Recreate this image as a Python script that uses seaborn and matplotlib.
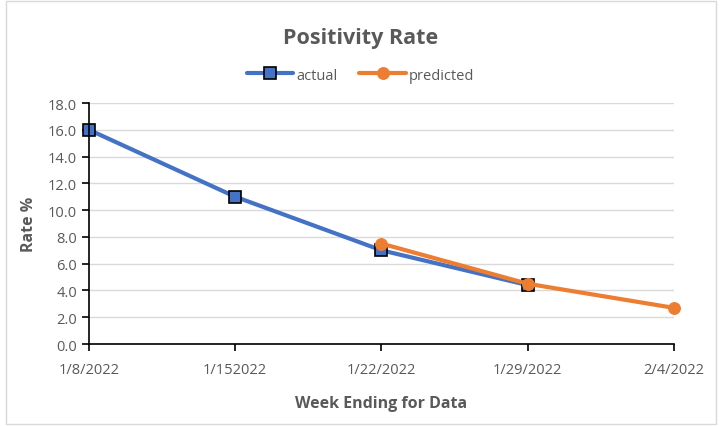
import matplotlib
matplotlib.use("Agg")
import matplotlib.pyplot as plt
import seaborn as sns
import pandas as pd

# data
weeks = ["1/8/2022", "1/152022", "1/22/2022", "1/29/2022", "2/4/2022"]
actual = [16.0, 11.0, 7.0, 4.4]
predicted = [7.5, 4.5, 2.7]

df_actual = pd.DataFrame({"pos": range(len(actual)), "rate": actual})
df_pred = pd.DataFrame({"pos": range(2, 2 + len(predicted)), "rate": predicted})

sns.set_style("white")
plt.rcParams["font.family"] = ["Open Sans", "DejaVu Sans"]
grey = "#595959"

fig = plt.figure(figsize=(7.21, 4.27), dpi=100)
ax = fig.add_axes([0.1234, 0.192, 0.8114, 0.5644])

sns.lineplot(data=df_actual, x="pos", y="rate", ax=ax, color="#4472C4", linewidth=3,
             marker="s", markersize=8, markerfacecolor="#4472C4", markeredgecolor="black",
             markeredgewidth=1.2, label="actual", clip_on=False)
sns.lineplot(data=df_pred, x="pos", y="rate", ax=ax, color="#ED7D31", linewidth=3,
             marker="o", markersize=8.5, markerfacecolor="#ED7D31", markeredgecolor="#ED7D31",
             label="predicted", clip_on=False)

ax.set_xlim(0, len(weeks) - 1)
ax.set_ylim(0, 18)
ax.set_xticks(range(len(weeks)))
ax.set_xticklabels(weeks)
ax.set_yticks(range(0, 19, 2))
ax.set_yticklabels([f"{v:.1f}" for v in range(0, 19, 2)])
ax.yaxis.grid(True, color="#D9D9D9", linewidth=1)
ax.set_axisbelow(True)

for s in ["top", "right"]:
    ax.spines[s].set_visible(False)
for s in ["left", "bottom"]:
    ax.spines[s].set_color("black")
    ax.spines[s].set_linewidth(1.2)
ax.tick_params(axis="both", direction="out", length=5, width=1.2, color="black",
               labelcolor=grey, labelsize=10.5, left=True, bottom=True)
ax.tick_params(axis="x", pad=8)

ax.set_xlabel("Week Ending for Data", fontsize=11.5, fontweight="bold", color=grey, labelpad=13)
ax.set_ylabel("Rate %", fontsize=11.5, fontweight="bold", color=grey, labelpad=8)
fig.text(0.5, 0.91, "Positivity Rate", ha="center", va="center", fontsize=15.5,
         fontweight="bold", color=grey)

leg = ax.legend(loc="center", bbox_to_anchor=(0.5, 0.822), bbox_transform=fig.transFigure,
                ncol=2, frameon=False, fontsize=10.5, handlelength=3.2, columnspacing=1.5,
                handletextpad=0.2)
for t in leg.get_texts():
    t.set_color(grey)

# light chart border
fig.patches.append(plt.Rectangle((0.008, 0.005), 0.985, 0.99, transform=fig.transFigure,
                                 fill=False, edgecolor="#D9D9D9", linewidth=1))

fig.savefig("out.png", dpi=100)
